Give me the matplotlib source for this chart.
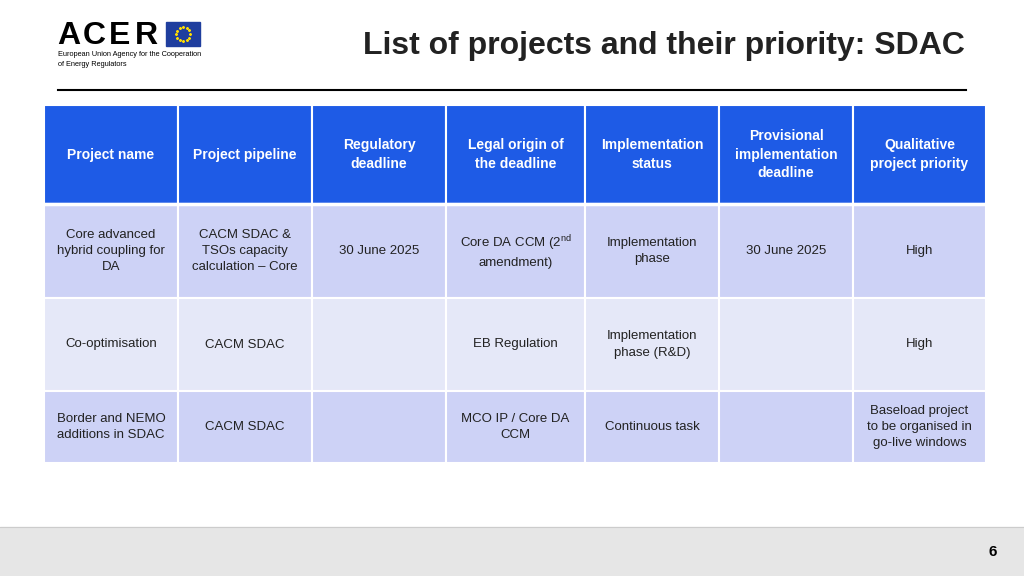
import matplotlib
matplotlib.use("Agg")
import matplotlib.pyplot as plt
import matplotlib.patches as mpatches
import numpy as np

plt.rcParams["font.family"] = "Liberation Sans"
plt.rcParams["mathtext.fontset"] = "custom"
plt.rcParams["mathtext.rm"] = "Liberation Sans"

# ── contenido de la tabla
headers = ["Project name", "Project pipeline", "Regulatory\ndeadline",
           "Legal origin of\nthe deadline", "Implementation\nstatus",
           "Provisional\nimplementation\ndeadline", "Qualitative\nproject priority"]
row1 = ["Core advanced\nhybrid coupling for\nDA", "CACM SDAC &\nTSOs capacity\ncalculation – Core",
        "30 June 2025", "Core DA CCM (2$^{\\rm nd}$\namendment)", "Implementation\nphase",
        "30 June 2025", "High"]
row2 = ["Co-optimisation", "CACM SDAC", "", "EB Regulation",
        "Implementation\nphase (R&D)", "", "High"]
row3 = ["Border and NEMO\nadditions in SDAC", "CACM SDAC", "", "MCO IP / Core DA\nCCM",
        "Continuous task", "", "Baseload project\nto be organised in\ngo-live windows"]
rows = [headers, row1, row2, row3]

col_edges = [44, 178, 312, 446, 585, 719, 853, 986]
row_edges = [(105, 204), (204, 298), (298, 391), (391, 463)]
row_colors = ["#1E5BE6", "#CDD2F6", "#E5E8F8", "#CDD2F6"]

fig = plt.figure(figsize=(10.24, 5.76), dpi=100)
ax = fig.add_axes([0, 0, 1, 1])
ax.set_xlim(0, 1024)
ax.set_ylim(576, 0)
ax.axis("off")

# logo ACER
for i, ch in enumerate("ACER"):
    ax.text(57 + i * 26, 36, ch, fontsize=23, fontweight="bold", ha="left", va="center", color="black")
ax.add_patch(mpatches.Rectangle((166, 22), 34, 24, color="#1F3E9E"))
ang = np.linspace(0, 2 * np.pi, 12, endpoint=False)
ax.scatter(183 + 7 * np.cos(ang), 34 + 7 * np.sin(ang), s=1.5, color="#FFDD00", marker="*")
ax.text(58, 55, "European Union Agency for the Cooperation", fontsize=5.3, va="center")
ax.text(58, 64, "of Energy Regulators", fontsize=5.3, va="center")

# título
ax.text(664, 46, "List of projects and their priority: SDAC", fontsize=23,
        fontweight="bold", ha="center", va="center", color="#222222")
ax.plot([58, 966], [90, 90], color="black", linewidth=1.5)

# tabla
for r, (vals, (y0, y1)) in enumerate(zip(rows, row_edges)):
    for c, txt in enumerate(vals):
        x0, x1 = col_edges[c], col_edges[c + 1]
        ax.add_patch(mpatches.Rectangle((x0, y0), x1 - x0, y1 - y0,
                                        facecolor=row_colors[r], edgecolor="white", linewidth=1.5))
        ax.text((x0 + x1) / 2, (y0 + y1) / 2, txt, ha="center", va="center",
                fontsize=10 if r == 0 else 9.5, linespacing=1.45,
                fontweight="bold" if r == 0 else "normal",
                color="white" if r == 0 else "#222222")
ax.plot([44, 986], [204, 204], color="white", linewidth=2.5)

# pie de página
ax.add_patch(mpatches.Rectangle((0, 527), 1024, 49, color="#E6E6E6"))
ax.plot([0, 1024], [527, 527], color="#CCCCCC", linewidth=0.8)
ax.text(993, 552, "6", fontsize=11, fontweight="bold", ha="center", va="center")

fig.savefig("out.png", dpi=100)
